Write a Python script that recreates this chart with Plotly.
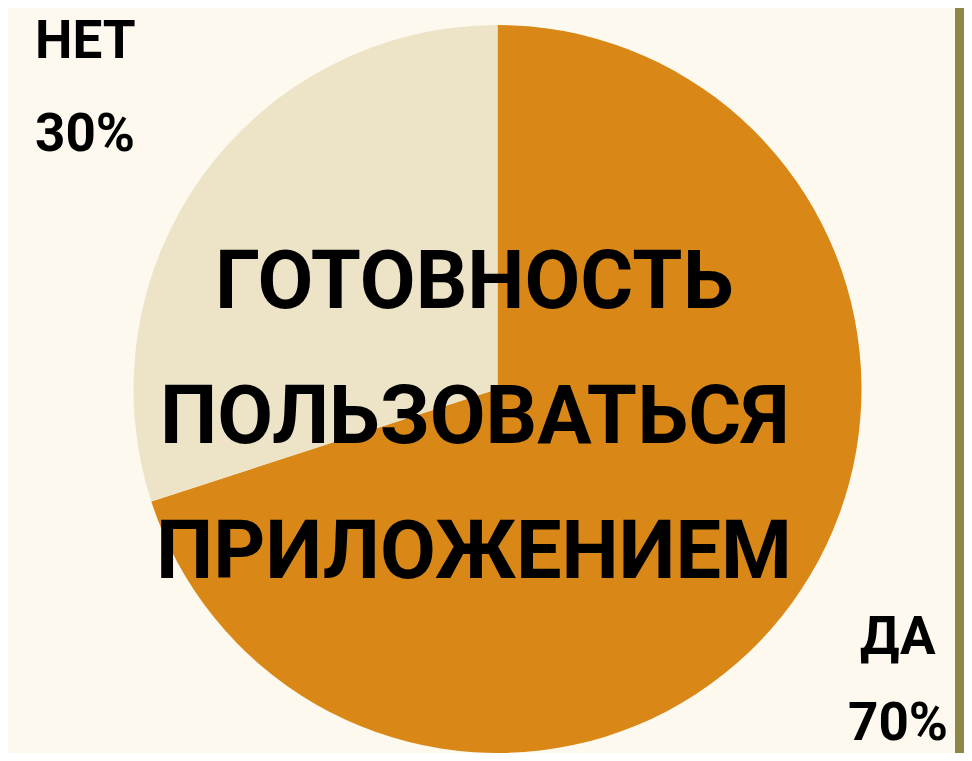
import plotly.graph_objects as go

labels = ["ДА", "НЕТ"]
values = [70, 30]
colors = ["#D98818", "#EDE3C6"]
title_lines = ["ГОТОВНОСТЬ", "ПОЛЬЗОВАТЬСЯ", "ПРИЛОЖЕНИЕМ"]

# page body has an 8px margin on every side; keep the figure inside the window
OFF = 8
W, H = 972 - 2 * OFF, 761 - 2 * OFF
FONT = "Roboto, Liberation Sans, sans-serif"


def px(x):
    return (x - OFF) / W


def py(y):
    return 1 - (y - OFF) / H


top = 25  # top of the pie in window pixels
r = (H - (top - OFF)) / 2
cx = 497.5
fig = go.Figure(go.Pie(
    labels=labels,
    values=values,
    sort=False,
    direction="clockwise",
    rotation=0,
    marker=dict(colors=colors, line=dict(width=0)),
    textinfo="none",
    hoverinfo="label+percent",
    showlegend=False,
    domain=dict(x=[px(cx - r), px(cx + r)], y=[0, py(top)]),
))

annotations = []
title_y = [280, 415, 550]
for line, yc in zip(title_lines, title_y):
    annotations.append(dict(
        text=line, x=px(474), y=py(yc), xref="paper", yref="paper",
        xanchor="center", yanchor="middle", showarrow=False,
        font=dict(family=FONT, size=81, color="#000000", weight="bold"),
    ))

total = sum(values)
corner = {
    "НЕТ": (85, 40, 133),
    "ДА": (898, 636, 722),
}
for lab, val in zip(labels, values):
    xc, y1, y2 = corner[lab]
    pct = f"{round(100 * val / total)}%"
    for txt, yc in ((lab, y1), (pct, y2)):
        annotations.append(dict(
            text=txt, x=px(xc), y=py(yc), xref="paper", yref="paper",
            xanchor="center", yanchor="middle", showarrow=False,
            font=dict(family=FONT, size=53, color="#000000", weight="bold"),
        ))

fig.update_layout(
    width=W, height=H,
    margin=dict(l=0, r=0, t=0, b=0),
    paper_bgcolor="#FDF9EE",
    plot_bgcolor="#FDF9EE",
    annotations=annotations,
    shapes=[dict(type="rect", xref="paper", yref="paper",
                 x0=px(955), x1=1, y0=0, y1=1,
                 fillcolor="#8D8645", line=dict(width=0), layer="below")],
)

fig.write_html("out.html")
